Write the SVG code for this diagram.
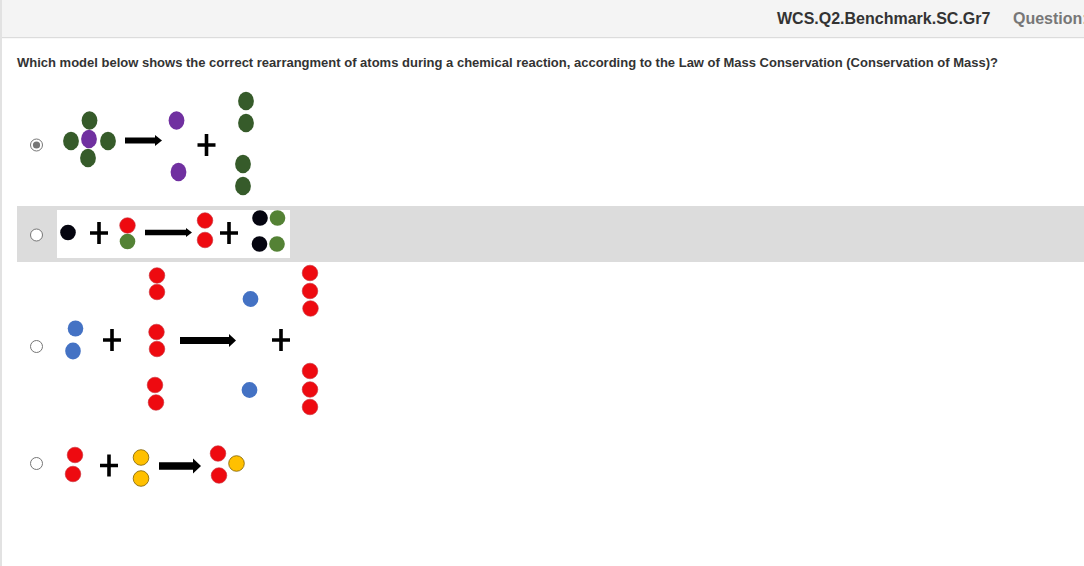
<svg xmlns="http://www.w3.org/2000/svg" width="1084" height="566" viewBox="0 0 1084 566">
<style>
text{font-family:"Liberation Sans",Arial,sans-serif;font-weight:bold}
.dg{fill:#365b2a}.pu{fill:#7030a0}.bk{fill:#050510}.gr{fill:#548235}.re{fill:#ee0a10;stroke:#c8303a;stroke-width:.6}.bl{fill:#4472c4}.ye{fill:#ffc000;stroke:#7f6000;stroke-width:.8}
.radio{fill:#fff;stroke:#767676;stroke-width:1}
.plus{stroke:#000;stroke-width:3.600;fill:none}
.shaft{stroke:#000;fill:none}
</style>
<defs>
<path id="plus" class="plus" d="M-9 0H9M0-11V11"/>
<ellipse id="dgo" class="dg" rx="7.900" ry="9.200"/>
<ellipse id="puo" class="pu" rx="7.900" ry="9.200"/>
<circle id="bkc" class="bk" r="7.800"/>
<circle id="grc" class="gr" r="7.800"/>
<circle id="rec" class="re" r="7.800"/>
<circle id="blc" class="bl" r="7.900"/>
<circle id="yec" class="ye" r="7.800"/>
</defs>
<rect width="1084" height="566" fill="#fff"/>
<g id="page-header">
<rect width="1084" height="37" fill="#f4f4f4"/>
<rect y="37" width="1084" height="1.200" fill="#dcdcdc"/>
<rect width="2" height="566" fill="#e2e2e2"/>
<text x="777" y="24" font-size="16" fill="#333">WCS.Q2.Benchmark.SC.Gr7</text>
<text x="1013" y="24" font-size="16" fill="#777">Question:</text>
</g>
<text id="question" x="17" y="67" font-size="13" fill="#333">Which model below shows the correct rearrangment of atoms during a chemical reaction, according to the Law of Mass Conservation (Conservation of Mass)?</text>

<g id="option-1">
<circle class="radio" cx="36.500" cy="145" r="6"/><circle cx="36.500" cy="145" r="3.600" fill="#767676"/>
<use href="#dgo" x="89.500" y="120.500"/><use href="#dgo" x="71" y="141"/><use href="#dgo" x="108" y="141"/><use href="#dgo" x="88" y="158"/><use href="#puo" x="89" y="139"/>
<path class="shaft" stroke-width="6" d="M125 140.500H156"/><path d="M155 135L162 140.500L155 146Z"/>
<use href="#puo" x="176.500" y="120.500"/><use href="#puo" x="178.500" y="172"/>
<use href="#plus" x="206.500" y="145"/>
<use href="#dgo" x="246" y="101"/><use href="#dgo" x="246" y="123"/><use href="#dgo" x="243" y="164"/><use href="#dgo" x="243" y="186"/>
</g>

<g id="option-2">
<rect x="17" y="206" width="1067" height="56" fill="#dcdcdc"/>
<rect x="57" y="210" width="233" height="48" fill="#fff"/>
<circle class="radio" cx="36.500" cy="235" r="6"/>
<use href="#bkc" x="68" y="232.500"/><use href="#plus" x="99" y="233"/>
<use href="#rec" x="127.500" y="225.500"/><use href="#grc" x="127.500" y="241.500"/>
<path class="shaft" stroke-width="5.500" d="M145 232.500H187"/><path d="M186 228L192 232.500L186 237Z"/>
<use href="#rec" x="205" y="220.500"/><use href="#rec" x="205" y="240"/>
<use href="#plus" x="229" y="233"/>
<use href="#bkc" x="260" y="218"/><use href="#grc" x="277.500" y="218"/><use href="#bkc" x="259.500" y="244"/><use href="#grc" x="277" y="244"/>
</g>

<g id="option-3">
<circle class="radio" cx="36.500" cy="346.500" r="6"/>
<ellipse class="bl" cx="75.500" cy="328.500" rx="7.800" ry="8"/><ellipse class="bl" cx="73" cy="351" rx="7.800" ry="8.500"/>
<use href="#plus" x="112" y="340"/>
<use href="#rec" x="157" y="275.500"/><use href="#rec" x="157" y="292"/><use href="#rec" x="156.500" y="332"/><use href="#rec" x="157" y="349"/><use href="#rec" x="155" y="385"/><use href="#rec" x="156" y="402.500"/>
<path class="shaft" stroke-width="7" d="M180 340.500H230"/><path d="M229 334L236 340.500L229 347Z"/>
<use href="#blc" x="250.500" y="299"/><use href="#blc" x="249.500" y="390"/>
<use href="#plus" x="281" y="340"/>
<use href="#rec" x="310" y="273"/><use href="#rec" x="310" y="291"/><use href="#rec" x="310.500" y="308.500"/><use href="#rec" x="310" y="371"/><use href="#rec" x="310" y="389.500"/><use href="#rec" x="310" y="407"/>
</g>

<g id="option-4">
<circle class="radio" cx="36.500" cy="463.500" r="6"/>
<use href="#rec" x="75" y="455"/><use href="#rec" x="73" y="474"/>
<use href="#plus" x="109" y="465.500"/>
<use href="#yec" x="141" y="457.500"/><use href="#yec" x="141" y="478.500"/>
<path class="shaft" stroke-width="7.500" d="M159 466H194"/><path d="M193 458.500L201 466L193 473.500Z"/>
<use href="#rec" x="218" y="453.500"/><use href="#rec" x="219" y="475.500"/><use href="#yec" x="236.500" y="463.500"/>
</g>
</svg>
